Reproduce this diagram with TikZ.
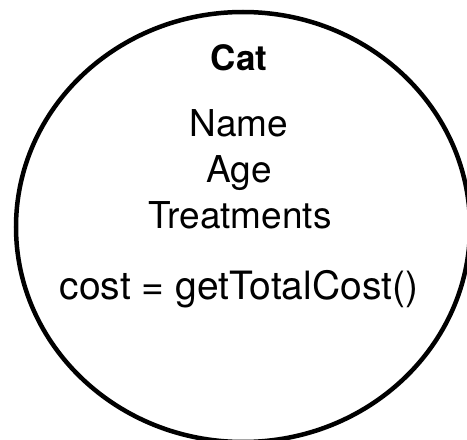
\documentclass[tikz,border=0pt]{standalone}
\usepackage{fontspec}
\setmainfont{TeX Gyre Heros}
\usepackage{tikz}
\usetikzlibrary{positioning}
\tikzset{field/.style={anchor=base, inner sep=0pt, font=\fontsize{37}{40}\selectfont}}

\begin{document}
\begin{tikzpicture}[x=1pt, y=1pt]
	\useasboundingbox (0,0) rectangle (467,440);
	\clip (0,0) rectangle (467,440);
	% Outline of the class
	\draw[line width=4.5pt] (243,213) ellipse [x radius=227, y radius=215];
	% Labels
	\node[field, font=\fontsize{35}{40}\selectfont\bfseries] at (239,369) (cat) {Cat};
	\node[field] at (239,303) (name) {Name};
	\node[field] at (239,257) (age) {Age};
	\node[field] at (240,211) (treat) {Treatments};
	\node[field, font=\fontsize{39}{40}\selectfont] at (239,140) (cost) {cost = getTotalCost()};
\end{tikzpicture}
\end{document}
